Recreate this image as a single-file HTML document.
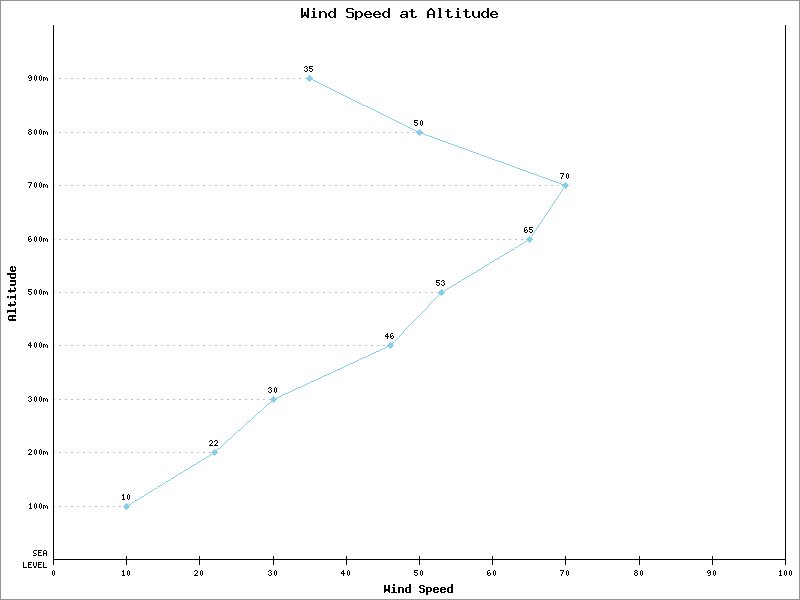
<!DOCTYPE html>
<html lang="en">
<head>
<meta charset="utf-8">
<title>Wind Speed at Altitude</title>
<style>
html,body{margin:0;padding:0;background:#ffffff;}
body{width:800px;height:600px;overflow:hidden;font-family:"Liberation Mono", monospace;}
.chart{position:relative;width:800px;height:600px;background:#ffffff;}
.chart svg{position:absolute;left:0;top:0;display:block;}
.sr{position:absolute;width:1px;height:1px;overflow:hidden;clip:rect(0 0 0 0);white-space:nowrap;}
</style>
</head>
<body>
<div class="chart" role="img" aria-label="Line chart: Wind Speed at Altitude">
<span class="sr">Wind Speed at Altitude. Altitude 100m to 900m; wind speed 10, 22, 30, 46, 53, 65, 70, 50, 35.</span>
<svg width="800" height="600" viewBox="0 0 800 600" shape-rendering="crispEdges">
<rect x="0" y="0" width="800" height="600" fill="#ffffff"/>
<g id="frame"><path fill="#949494" d="M0 0h800v1h-800zM0 1h1v598h-1zM799 1h1v598h-1zM0 599h800v1h-800z"/></g>
<g id="droplines"><path fill="#bebebe" d="M53 78h2v1h-2zM59 78h2v1h-2zM65 78h2v1h-2zM71 78h2v1h-2zM77 78h2v1h-2zM83 78h2v1h-2zM89 78h2v1h-2zM95 78h2v1h-2zM101 78h2v1h-2zM107 78h2v1h-2zM113 78h2v1h-2zM119 78h2v1h-2zM125 78h2v1h-2zM131 78h2v1h-2zM137 78h2v1h-2zM143 78h2v1h-2zM149 78h2v1h-2zM155 78h2v1h-2zM161 78h2v1h-2zM167 78h2v1h-2zM173 78h2v1h-2zM179 78h2v1h-2zM185 78h2v1h-2zM191 78h2v1h-2zM197 78h2v1h-2zM203 78h2v1h-2zM209 78h2v1h-2zM215 78h2v1h-2zM221 78h2v1h-2zM227 78h2v1h-2zM233 78h2v1h-2zM239 78h2v1h-2zM245 78h2v1h-2zM251 78h2v1h-2zM257 78h2v1h-2zM263 78h2v1h-2zM269 78h2v1h-2zM275 78h2v1h-2zM281 78h2v1h-2zM287 78h2v1h-2zM293 78h2v1h-2zM299 78h2v1h-2zM305 78h2v1h-2zM53 132h2v1h-2zM59 132h2v1h-2zM65 132h2v1h-2zM71 132h2v1h-2zM77 132h2v1h-2zM83 132h2v1h-2zM89 132h2v1h-2zM95 132h2v1h-2zM101 132h2v1h-2zM107 132h2v1h-2zM113 132h2v1h-2zM119 132h2v1h-2zM125 132h2v1h-2zM131 132h2v1h-2zM137 132h2v1h-2zM143 132h2v1h-2zM149 132h2v1h-2zM155 132h2v1h-2zM161 132h2v1h-2zM167 132h2v1h-2zM173 132h2v1h-2zM179 132h2v1h-2zM185 132h2v1h-2zM191 132h2v1h-2zM197 132h2v1h-2zM203 132h2v1h-2zM209 132h2v1h-2zM215 132h2v1h-2zM221 132h2v1h-2zM227 132h2v1h-2zM233 132h2v1h-2zM239 132h2v1h-2zM245 132h2v1h-2zM251 132h2v1h-2zM257 132h2v1h-2zM263 132h2v1h-2zM269 132h2v1h-2zM275 132h2v1h-2zM281 132h2v1h-2zM287 132h2v1h-2zM293 132h2v1h-2zM299 132h2v1h-2zM305 132h2v1h-2zM311 132h2v1h-2zM317 132h2v1h-2zM323 132h2v1h-2zM329 132h2v1h-2zM335 132h2v1h-2zM341 132h2v1h-2zM347 132h2v1h-2zM353 132h2v1h-2zM359 132h2v1h-2zM365 132h2v1h-2zM371 132h2v1h-2zM377 132h2v1h-2zM383 132h2v1h-2zM389 132h2v1h-2zM395 132h2v1h-2zM401 132h2v1h-2zM407 132h2v1h-2zM413 132h2v1h-2zM419 132h1v1h-1zM53 185h2v1h-2zM59 185h2v1h-2zM65 185h2v1h-2zM71 185h2v1h-2zM77 185h2v1h-2zM83 185h2v1h-2zM89 185h2v1h-2zM95 185h2v1h-2zM101 185h2v1h-2zM107 185h2v1h-2zM113 185h2v1h-2zM119 185h2v1h-2zM125 185h2v1h-2zM131 185h2v1h-2zM137 185h2v1h-2zM143 185h2v1h-2zM149 185h2v1h-2zM155 185h2v1h-2zM161 185h2v1h-2zM167 185h2v1h-2zM173 185h2v1h-2zM179 185h2v1h-2zM185 185h2v1h-2zM191 185h2v1h-2zM197 185h2v1h-2zM203 185h2v1h-2zM209 185h2v1h-2zM215 185h2v1h-2zM221 185h2v1h-2zM227 185h2v1h-2zM233 185h2v1h-2zM239 185h2v1h-2zM245 185h2v1h-2zM251 185h2v1h-2zM257 185h2v1h-2zM263 185h2v1h-2zM269 185h2v1h-2zM275 185h2v1h-2zM281 185h2v1h-2zM287 185h2v1h-2zM293 185h2v1h-2zM299 185h2v1h-2zM305 185h2v1h-2zM311 185h2v1h-2zM317 185h2v1h-2zM323 185h2v1h-2zM329 185h2v1h-2zM335 185h2v1h-2zM341 185h2v1h-2zM347 185h2v1h-2zM353 185h2v1h-2zM359 185h2v1h-2zM365 185h2v1h-2zM371 185h2v1h-2zM377 185h2v1h-2zM383 185h2v1h-2zM389 185h2v1h-2zM395 185h2v1h-2zM401 185h2v1h-2zM407 185h2v1h-2zM413 185h2v1h-2zM419 185h2v1h-2zM425 185h2v1h-2zM431 185h2v1h-2zM437 185h2v1h-2zM443 185h2v1h-2zM449 185h2v1h-2zM455 185h2v1h-2zM461 185h2v1h-2zM467 185h2v1h-2zM473 185h2v1h-2zM479 185h2v1h-2zM485 185h2v1h-2zM491 185h2v1h-2zM497 185h2v1h-2zM503 185h2v1h-2zM509 185h2v1h-2zM515 185h2v1h-2zM521 185h2v1h-2zM527 185h2v1h-2zM533 185h2v1h-2zM539 185h2v1h-2zM545 185h2v1h-2zM551 185h2v1h-2zM557 185h2v1h-2zM563 185h2v1h-2zM53 239h2v1h-2zM59 239h2v1h-2zM65 239h2v1h-2zM71 239h2v1h-2zM77 239h2v1h-2zM83 239h2v1h-2zM89 239h2v1h-2zM95 239h2v1h-2zM101 239h2v1h-2zM107 239h2v1h-2zM113 239h2v1h-2zM119 239h2v1h-2zM125 239h2v1h-2zM131 239h2v1h-2zM137 239h2v1h-2zM143 239h2v1h-2zM149 239h2v1h-2zM155 239h2v1h-2zM161 239h2v1h-2zM167 239h2v1h-2zM173 239h2v1h-2zM179 239h2v1h-2zM185 239h2v1h-2zM191 239h2v1h-2zM197 239h2v1h-2zM203 239h2v1h-2zM209 239h2v1h-2zM215 239h2v1h-2zM221 239h2v1h-2zM227 239h2v1h-2zM233 239h2v1h-2zM239 239h2v1h-2zM245 239h2v1h-2zM251 239h2v1h-2zM257 239h2v1h-2zM263 239h2v1h-2zM269 239h2v1h-2zM275 239h2v1h-2zM281 239h2v1h-2zM287 239h2v1h-2zM293 239h2v1h-2zM299 239h2v1h-2zM305 239h2v1h-2zM311 239h2v1h-2zM317 239h2v1h-2zM323 239h2v1h-2zM329 239h2v1h-2zM335 239h2v1h-2zM341 239h2v1h-2zM347 239h2v1h-2zM353 239h2v1h-2zM359 239h2v1h-2zM365 239h2v1h-2zM371 239h2v1h-2zM377 239h2v1h-2zM383 239h2v1h-2zM389 239h2v1h-2zM395 239h2v1h-2zM401 239h2v1h-2zM407 239h2v1h-2zM413 239h2v1h-2zM419 239h2v1h-2zM425 239h2v1h-2zM431 239h2v1h-2zM437 239h2v1h-2zM443 239h2v1h-2zM449 239h2v1h-2zM455 239h2v1h-2zM461 239h2v1h-2zM467 239h2v1h-2zM473 239h2v1h-2zM479 239h2v1h-2zM485 239h2v1h-2zM491 239h2v1h-2zM497 239h2v1h-2zM503 239h2v1h-2zM509 239h2v1h-2zM515 239h2v1h-2zM521 239h2v1h-2zM527 239h2v1h-2zM53 292h2v1h-2zM59 292h2v1h-2zM65 292h2v1h-2zM71 292h2v1h-2zM77 292h2v1h-2zM83 292h2v1h-2zM89 292h2v1h-2zM95 292h2v1h-2zM101 292h2v1h-2zM107 292h2v1h-2zM113 292h2v1h-2zM119 292h2v1h-2zM125 292h2v1h-2zM131 292h2v1h-2zM137 292h2v1h-2zM143 292h2v1h-2zM149 292h2v1h-2zM155 292h2v1h-2zM161 292h2v1h-2zM167 292h2v1h-2zM173 292h2v1h-2zM179 292h2v1h-2zM185 292h2v1h-2zM191 292h2v1h-2zM197 292h2v1h-2zM203 292h2v1h-2zM209 292h2v1h-2zM215 292h2v1h-2zM221 292h2v1h-2zM227 292h2v1h-2zM233 292h2v1h-2zM239 292h2v1h-2zM245 292h2v1h-2zM251 292h2v1h-2zM257 292h2v1h-2zM263 292h2v1h-2zM269 292h2v1h-2zM275 292h2v1h-2zM281 292h2v1h-2zM287 292h2v1h-2zM293 292h2v1h-2zM299 292h2v1h-2zM305 292h2v1h-2zM311 292h2v1h-2zM317 292h2v1h-2zM323 292h2v1h-2zM329 292h2v1h-2zM335 292h2v1h-2zM341 292h2v1h-2zM347 292h2v1h-2zM353 292h2v1h-2zM359 292h2v1h-2zM365 292h2v1h-2zM371 292h2v1h-2zM377 292h2v1h-2zM383 292h2v1h-2zM389 292h2v1h-2zM395 292h2v1h-2zM401 292h2v1h-2zM407 292h2v1h-2zM413 292h2v1h-2zM419 292h2v1h-2zM425 292h2v1h-2zM431 292h2v1h-2zM437 292h2v1h-2zM53 345h2v1h-2zM59 345h2v1h-2zM65 345h2v1h-2zM71 345h2v1h-2zM77 345h2v1h-2zM83 345h2v1h-2zM89 345h2v1h-2zM95 345h2v1h-2zM101 345h2v1h-2zM107 345h2v1h-2zM113 345h2v1h-2zM119 345h2v1h-2zM125 345h2v1h-2zM131 345h2v1h-2zM137 345h2v1h-2zM143 345h2v1h-2zM149 345h2v1h-2zM155 345h2v1h-2zM161 345h2v1h-2zM167 345h2v1h-2zM173 345h2v1h-2zM179 345h2v1h-2zM185 345h2v1h-2zM191 345h2v1h-2zM197 345h2v1h-2zM203 345h2v1h-2zM209 345h2v1h-2zM215 345h2v1h-2zM221 345h2v1h-2zM227 345h2v1h-2zM233 345h2v1h-2zM239 345h2v1h-2zM245 345h2v1h-2zM251 345h2v1h-2zM257 345h2v1h-2zM263 345h2v1h-2zM269 345h2v1h-2zM275 345h2v1h-2zM281 345h2v1h-2zM287 345h2v1h-2zM293 345h2v1h-2zM299 345h2v1h-2zM305 345h2v1h-2zM311 345h2v1h-2zM317 345h2v1h-2zM323 345h2v1h-2zM329 345h2v1h-2zM335 345h2v1h-2zM341 345h2v1h-2zM347 345h2v1h-2zM353 345h2v1h-2zM359 345h2v1h-2zM365 345h2v1h-2zM371 345h2v1h-2zM377 345h2v1h-2zM383 345h2v1h-2zM389 345h2v1h-2zM53 399h2v1h-2zM59 399h2v1h-2zM65 399h2v1h-2zM71 399h2v1h-2zM77 399h2v1h-2zM83 399h2v1h-2zM89 399h2v1h-2zM95 399h2v1h-2zM101 399h2v1h-2zM107 399h2v1h-2zM113 399h2v1h-2zM119 399h2v1h-2zM125 399h2v1h-2zM131 399h2v1h-2zM137 399h2v1h-2zM143 399h2v1h-2zM149 399h2v1h-2zM155 399h2v1h-2zM161 399h2v1h-2zM167 399h2v1h-2zM173 399h2v1h-2zM179 399h2v1h-2zM185 399h2v1h-2zM191 399h2v1h-2zM197 399h2v1h-2zM203 399h2v1h-2zM209 399h2v1h-2zM215 399h2v1h-2zM221 399h2v1h-2zM227 399h2v1h-2zM233 399h2v1h-2zM239 399h2v1h-2zM245 399h2v1h-2zM251 399h2v1h-2zM257 399h2v1h-2zM263 399h2v1h-2zM269 399h2v1h-2zM53 452h2v1h-2zM59 452h2v1h-2zM65 452h2v1h-2zM71 452h2v1h-2zM77 452h2v1h-2zM83 452h2v1h-2zM89 452h2v1h-2zM95 452h2v1h-2zM101 452h2v1h-2zM107 452h2v1h-2zM113 452h2v1h-2zM119 452h2v1h-2zM125 452h2v1h-2zM131 452h2v1h-2zM137 452h2v1h-2zM143 452h2v1h-2zM149 452h2v1h-2zM155 452h2v1h-2zM161 452h2v1h-2zM167 452h2v1h-2zM173 452h2v1h-2zM179 452h2v1h-2zM185 452h2v1h-2zM191 452h2v1h-2zM197 452h2v1h-2zM203 452h2v1h-2zM209 452h2v1h-2zM53 506h2v1h-2zM59 506h2v1h-2zM65 506h2v1h-2zM71 506h2v1h-2zM77 506h2v1h-2zM83 506h2v1h-2zM89 506h2v1h-2zM95 506h2v1h-2zM101 506h2v1h-2zM107 506h2v1h-2zM113 506h2v1h-2zM119 506h2v1h-2zM125 506h2v1h-2z"/></g>
<g id="axes"><path fill="#000000" d="M53 25h1v534h-1zM785 25h1v534h-1zM126 556h1v3h-1zM199 556h1v3h-1zM273 556h1v3h-1zM346 556h1v3h-1zM419 556h1v3h-1zM492 556h1v3h-1zM565 556h1v3h-1zM639 556h1v3h-1zM712 556h1v3h-1zM53 559h733v1h-733zM53 560h1v5h-1zM126 560h1v5h-1zM199 560h1v5h-1zM273 560h1v5h-1zM346 560h1v5h-1zM419 560h1v5h-1zM492 560h1v5h-1zM565 560h1v5h-1zM639 560h1v5h-1zM712 560h1v5h-1zM785 560h1v5h-1z"/></g>
<g id="x-labels"><path fill="#000000" d="M53 570h1v1h-1zM123 570h1v1h-1zM128 570h1v1h-1zM195 570h2v1h-2zM201 570h1v1h-1zM269 570h2v1h-2zM275 570h1v1h-1zM343 570h1v1h-1zM348 570h1v1h-1zM414 570h4v1h-4zM421 570h1v1h-1zM488 570h2v1h-2zM494 570h1v1h-1zM560 570h4v1h-4zM567 570h1v1h-1zM635 570h2v1h-2zM641 570h1v1h-1zM708 570h2v1h-2zM714 570h1v1h-1zM780 570h1v1h-1zM785 570h1v1h-1zM790 570h1v1h-1zM52 571h1v4h-1zM54 571h1v4h-1zM122 571h2v1h-2zM127 571h1v4h-1zM129 571h1v4h-1zM194 571h1v1h-1zM197 571h1v2h-1zM200 571h1v4h-1zM202 571h1v4h-1zM268 571h1v1h-1zM271 571h1v1h-1zM274 571h1v4h-1zM276 571h1v4h-1zM342 571h2v1h-2zM347 571h1v4h-1zM349 571h1v4h-1zM414 571h1v1h-1zM420 571h1v4h-1zM422 571h1v4h-1zM487 571h1v2h-1zM493 571h1v4h-1zM495 571h1v4h-1zM563 571h1v1h-1zM566 571h1v4h-1zM568 571h1v4h-1zM634 571h1v1h-1zM637 571h1v1h-1zM640 571h1v4h-1zM642 571h1v4h-1zM707 571h1v2h-1zM710 571h1v1h-1zM713 571h1v4h-1zM715 571h1v4h-1zM779 571h2v1h-2zM784 571h1v4h-1zM786 571h1v4h-1zM789 571h1v4h-1zM791 571h1v4h-1zM123 572h1v3h-1zM270 572h1v1h-1zM341 572h1v1h-1zM343 572h1v1h-1zM414 572h3v1h-3zM489 572h1v1h-1zM562 572h1v2h-1zM635 572h2v1h-2zM709 572h2v1h-2zM780 572h1v3h-1zM196 573h1v1h-1zM271 573h1v2h-1zM341 573h4v1h-4zM417 573h1v2h-1zM487 573h2v1h-2zM490 573h1v2h-1zM634 573h1v2h-1zM637 573h1v2h-1zM708 573h1v1h-1zM710 573h1v2h-1zM195 574h1v1h-1zM268 574h1v1h-1zM343 574h1v2h-1zM414 574h1v1h-1zM487 574h1v1h-1zM561 574h1v2h-1zM53 575h1v1h-1zM122 575h3v1h-3zM128 575h1v1h-1zM194 575h4v1h-4zM201 575h1v1h-1zM269 575h2v1h-2zM275 575h1v1h-1zM348 575h1v1h-1zM415 575h2v1h-2zM421 575h1v1h-1zM488 575h2v1h-2zM494 575h1v1h-1zM567 575h1v1h-1zM635 575h2v1h-2zM641 575h1v1h-1zM708 575h2v1h-2zM714 575h1v1h-1zM779 575h3v1h-3zM785 575h1v1h-1zM790 575h1v1h-1z"/></g>
<g id="y-labels"><path fill="#000000" d="M29 75h2v1h-2zM35 75h1v1h-1zM40 75h1v1h-1zM28 76h1v2h-1zM31 76h1v1h-1zM34 76h1v4h-1zM36 76h1v4h-1zM39 76h1v4h-1zM41 76h1v4h-1zM30 77h2v1h-2zM43 77h2v1h-2zM46 77h1v1h-1zM29 78h1v1h-1zM31 78h1v2h-1zM43 78h1v3h-1zM45 78h1v2h-1zM47 78h1v3h-1zM29 80h2v1h-2zM35 80h1v1h-1zM40 80h1v1h-1zM29 129h2v1h-2zM35 129h1v1h-1zM40 129h1v1h-1zM28 130h1v1h-1zM31 130h1v1h-1zM34 130h1v4h-1zM36 130h1v4h-1zM39 130h1v4h-1zM41 130h1v4h-1zM29 131h2v1h-2zM43 131h2v1h-2zM46 131h1v1h-1zM28 132h1v2h-1zM31 132h1v2h-1zM43 132h1v3h-1zM45 132h1v2h-1zM47 132h1v3h-1zM29 134h2v1h-2zM35 134h1v1h-1zM40 134h1v1h-1zM28 182h4v1h-4zM35 182h1v1h-1zM40 182h1v1h-1zM31 183h1v1h-1zM34 183h1v4h-1zM36 183h1v4h-1zM39 183h1v4h-1zM41 183h1v4h-1zM30 184h1v2h-1zM43 184h2v1h-2zM46 184h1v1h-1zM43 185h1v3h-1zM45 185h1v2h-1zM47 185h1v3h-1zM29 186h1v2h-1zM35 187h1v1h-1zM40 187h1v1h-1zM29 236h2v1h-2zM35 236h1v1h-1zM40 236h1v1h-1zM28 237h1v2h-1zM34 237h1v4h-1zM36 237h1v4h-1zM39 237h1v4h-1zM41 237h1v4h-1zM30 238h1v1h-1zM43 238h2v1h-2zM46 238h1v1h-1zM28 239h2v1h-2zM31 239h1v2h-1zM43 239h1v3h-1zM45 239h1v2h-1zM47 239h1v3h-1zM28 240h1v1h-1zM29 241h2v1h-2zM35 241h1v1h-1zM40 241h1v1h-1zM28 289h4v1h-4zM35 289h1v1h-1zM40 289h1v1h-1zM28 290h1v1h-1zM34 290h1v4h-1zM36 290h1v4h-1zM39 290h1v4h-1zM41 290h1v4h-1zM28 291h3v1h-3zM43 291h2v1h-2zM46 291h1v1h-1zM31 292h1v2h-1zM43 292h1v3h-1zM45 292h1v2h-1zM47 292h1v3h-1zM28 293h1v1h-1zM29 294h2v1h-2zM35 294h1v1h-1zM40 294h1v1h-1zM30 342h1v1h-1zM35 342h1v1h-1zM40 342h1v1h-1zM29 343h2v1h-2zM34 343h1v4h-1zM36 343h1v4h-1zM39 343h1v4h-1zM41 343h1v4h-1zM28 344h1v1h-1zM30 344h1v1h-1zM43 344h2v1h-2zM46 344h1v1h-1zM28 345h4v1h-4zM43 345h1v3h-1zM45 345h1v2h-1zM47 345h1v3h-1zM30 346h1v2h-1zM35 347h1v1h-1zM40 347h1v1h-1zM29 396h2v1h-2zM35 396h1v1h-1zM40 396h1v1h-1zM28 397h1v1h-1zM31 397h1v1h-1zM34 397h1v4h-1zM36 397h1v4h-1zM39 397h1v4h-1zM41 397h1v4h-1zM30 398h1v1h-1zM43 398h2v1h-2zM46 398h1v1h-1zM31 399h1v2h-1zM43 399h1v3h-1zM45 399h1v2h-1zM47 399h1v3h-1zM28 400h1v1h-1zM29 401h2v1h-2zM35 401h1v1h-1zM40 401h1v1h-1zM29 449h2v1h-2zM35 449h1v1h-1zM40 449h1v1h-1zM28 450h1v1h-1zM31 450h1v2h-1zM34 450h1v4h-1zM36 450h1v4h-1zM39 450h1v4h-1zM41 450h1v4h-1zM43 451h2v1h-2zM46 451h1v1h-1zM30 452h1v1h-1zM43 452h1v3h-1zM45 452h1v2h-1zM47 452h1v3h-1zM29 453h1v1h-1zM28 454h4v1h-4zM35 454h1v1h-1zM40 454h1v1h-1zM30 503h1v1h-1zM35 503h1v1h-1zM40 503h1v1h-1zM29 504h2v1h-2zM34 504h1v4h-1zM36 504h1v4h-1zM39 504h1v4h-1zM41 504h1v4h-1zM30 505h1v3h-1zM43 505h2v1h-2zM46 505h1v1h-1zM43 506h1v3h-1zM45 506h1v2h-1zM47 506h1v3h-1zM29 508h3v1h-3zM35 508h1v1h-1zM40 508h1v1h-1zM34 550h3v1h-3zM38 550h4v1h-4zM44 550h2v1h-2zM33 551h1v2h-1zM38 551h1v1h-1zM43 551h1v2h-1zM46 551h1v2h-1zM38 552h3v1h-3zM34 553h2v1h-2zM38 553h1v2h-1zM43 553h4v1h-4zM36 554h1v1h-1zM43 554h1v2h-1zM46 554h1v2h-1zM33 555h3v1h-3zM38 555h4v1h-4zM23 562h1v5h-1zM28 562h4v1h-4zM33 562h1v4h-1zM36 562h1v4h-1zM38 562h4v1h-4zM43 562h1v5h-1zM28 563h1v1h-1zM38 563h1v1h-1zM28 564h3v1h-3zM38 564h3v1h-3zM28 565h1v2h-1zM38 565h1v2h-1zM34 566h2v2h-2zM23 567h4v1h-4zM28 567h4v1h-4zM38 567h4v1h-4zM43 567h4v1h-4z"/></g>
<g id="series-line"><path fill="#87ceeb" d="M309 78h2v1h-2zM311 79h2v1h-2zM313 80h2v1h-2zM315 81h2v1h-2zM317 82h2v1h-2zM319 83h2v1h-2zM321 84h2v1h-2zM323 85h2v1h-2zM325 86h2v1h-2zM327 87h2v1h-2zM329 88h2v1h-2zM331 89h2v1h-2zM333 90h2v1h-2zM335 91h2v1h-2zM337 92h2v1h-2zM339 93h2v1h-2zM341 94h2v1h-2zM343 95h2v1h-2zM345 96h2v1h-2zM347 97h2v1h-2zM349 98h2v1h-2zM351 99h2v1h-2zM353 100h2v1h-2zM355 101h2v1h-2zM357 102h2v1h-2zM359 103h2v1h-2zM361 104h2v1h-2zM363 105h3v1h-3zM366 106h2v1h-2zM368 107h2v1h-2zM370 108h2v1h-2zM372 109h2v1h-2zM374 110h2v1h-2zM376 111h2v1h-2zM378 112h2v1h-2zM380 113h2v1h-2zM382 114h2v1h-2zM384 115h2v1h-2zM386 116h2v1h-2zM388 117h2v1h-2zM390 118h2v1h-2zM392 119h2v1h-2zM394 120h2v1h-2zM396 121h2v1h-2zM398 122h2v1h-2zM400 123h2v1h-2zM402 124h2v1h-2zM404 125h2v1h-2zM406 126h2v1h-2zM408 127h2v1h-2zM410 128h2v1h-2zM412 129h2v1h-2zM414 130h2v1h-2zM416 131h2v1h-2zM418 132h3v1h-3zM421 133h3v1h-3zM424 134h2v1h-2zM426 135h3v1h-3zM429 136h3v1h-3zM432 137h3v1h-3zM435 138h2v1h-2zM437 139h3v1h-3zM440 140h3v1h-3zM443 141h3v1h-3zM446 142h2v1h-2zM448 143h3v1h-3zM451 144h3v1h-3zM454 145h3v1h-3zM457 146h2v1h-2zM459 147h3v1h-3zM462 148h3v1h-3zM465 149h3v1h-3zM468 150h2v1h-2zM470 151h3v1h-3zM473 152h3v1h-3zM476 153h3v1h-3zM479 154h2v1h-2zM481 155h3v1h-3zM484 156h3v1h-3zM487 157h3v1h-3zM490 158h2v1h-2zM492 159h3v1h-3zM495 160h3v1h-3zM498 161h3v1h-3zM501 162h3v1h-3zM504 163h2v1h-2zM506 164h3v1h-3zM509 165h3v1h-3zM512 166h3v1h-3zM515 167h2v1h-2zM517 168h3v1h-3zM520 169h3v1h-3zM523 170h3v1h-3zM526 171h2v1h-2zM528 172h3v1h-3zM531 173h3v1h-3zM534 174h3v1h-3zM537 175h2v1h-2zM539 176h3v1h-3zM542 177h3v1h-3zM545 178h3v1h-3zM548 179h2v1h-2zM550 180h3v1h-3zM553 181h3v1h-3zM556 182h3v1h-3zM559 183h2v1h-2zM561 184h3v1h-3zM564 185h2v1h-2zM564 186h1v2h-1zM563 188h1v1h-1zM562 189h1v2h-1zM561 191h1v1h-1zM560 192h1v2h-1zM559 194h1v1h-1zM558 195h1v2h-1zM557 197h1v1h-1zM556 198h1v2h-1zM555 200h1v1h-1zM554 201h1v2h-1zM553 203h1v1h-1zM552 204h1v2h-1zM551 206h1v1h-1zM550 207h1v2h-1zM549 209h1v1h-1zM548 210h1v2h-1zM547 212h1v1h-1zM546 213h1v2h-1zM545 215h1v1h-1zM544 216h1v2h-1zM543 218h1v1h-1zM542 219h1v2h-1zM541 221h1v1h-1zM540 222h1v2h-1zM539 224h1v1h-1zM538 225h1v2h-1zM537 227h1v1h-1zM536 228h1v2h-1zM535 230h1v1h-1zM534 231h1v2h-1zM533 233h1v1h-1zM532 234h1v2h-1zM531 236h1v1h-1zM530 237h1v2h-1zM529 239h1v1h-1zM527 240h2v1h-2zM525 241h2v1h-2zM524 242h1v1h-1zM522 243h2v1h-2zM520 244h2v1h-2zM519 245h1v1h-1zM517 246h2v1h-2zM515 247h2v1h-2zM514 248h1v1h-1zM512 249h2v1h-2zM510 250h2v1h-2zM509 251h1v1h-1zM507 252h2v1h-2zM505 253h2v1h-2zM504 254h1v1h-1zM502 255h2v1h-2zM500 256h2v1h-2zM499 257h1v1h-1zM497 258h2v1h-2zM495 259h2v1h-2zM494 260h1v1h-1zM492 261h2v1h-2zM490 262h2v1h-2zM489 263h1v1h-1zM487 264h2v1h-2zM485 265h2v1h-2zM484 266h1v1h-1zM482 267h2v1h-2zM481 268h1v1h-1zM479 269h2v1h-2zM477 270h2v1h-2zM476 271h1v1h-1zM474 272h2v1h-2zM472 273h2v1h-2zM471 274h1v1h-1zM469 275h2v1h-2zM467 276h2v1h-2zM466 277h1v1h-1zM464 278h2v1h-2zM462 279h2v1h-2zM461 280h1v1h-1zM459 281h2v1h-2zM457 282h2v1h-2zM456 283h1v1h-1zM454 284h2v1h-2zM452 285h2v1h-2zM451 286h1v1h-1zM449 287h2v1h-2zM447 288h2v1h-2zM446 289h1v1h-1zM444 290h2v1h-2zM442 291h2v1h-2zM441 292h1v1h-1zM440 293h1v1h-1zM439 294h1v1h-1zM438 295h1v1h-1zM437 296h1v1h-1zM436 297h1v1h-1zM435 298h1v1h-1zM434 299h1v1h-1zM433 300h1v1h-1zM432 301h1v1h-1zM431 302h1v1h-1zM430 303h1v1h-1zM429 304h1v1h-1zM428 305h1v2h-1zM427 307h1v1h-1zM426 308h1v1h-1zM425 309h1v1h-1zM424 310h1v1h-1zM423 311h1v1h-1zM422 312h1v1h-1zM421 313h1v1h-1zM420 314h1v1h-1zM419 315h1v1h-1zM418 316h1v1h-1zM417 317h1v1h-1zM416 318h1v1h-1zM415 319h1v1h-1zM414 320h1v1h-1zM413 321h1v1h-1zM412 322h1v1h-1zM411 323h1v1h-1zM410 324h1v1h-1zM409 325h1v1h-1zM408 326h1v1h-1zM407 327h1v1h-1zM406 328h1v1h-1zM405 329h1v1h-1zM404 330h1v1h-1zM403 331h1v2h-1zM402 333h1v1h-1zM401 334h1v1h-1zM400 335h1v1h-1zM399 336h1v1h-1zM398 337h1v1h-1zM397 338h1v1h-1zM396 339h1v1h-1zM395 340h1v1h-1zM394 341h1v1h-1zM393 342h1v1h-1zM392 343h1v1h-1zM391 344h1v1h-1zM389 345h2v1h-2zM387 346h2v1h-2zM385 347h2v1h-2zM383 348h2v1h-2zM381 349h2v1h-2zM379 350h2v1h-2zM376 351h3v1h-3zM374 352h2v1h-2zM372 353h2v1h-2zM370 354h2v1h-2zM368 355h2v1h-2zM366 356h2v1h-2zM363 357h3v1h-3zM361 358h2v1h-2zM359 359h2v1h-2zM357 360h2v1h-2zM355 361h2v1h-2zM353 362h2v1h-2zM350 363h3v1h-3zM348 364h2v1h-2zM346 365h2v1h-2zM344 366h2v1h-2zM342 367h2v1h-2zM340 368h2v1h-2zM337 369h3v1h-3zM335 370h2v1h-2zM333 371h2v1h-2zM331 372h2v1h-2zM329 373h2v1h-2zM327 374h2v1h-2zM324 375h3v1h-3zM322 376h2v1h-2zM320 377h2v1h-2zM318 378h2v1h-2zM316 379h2v1h-2zM314 380h2v1h-2zM311 381h3v1h-3zM309 382h2v1h-2zM307 383h2v1h-2zM305 384h2v1h-2zM303 385h2v1h-2zM301 386h2v1h-2zM298 387h3v1h-3zM296 388h2v1h-2zM294 389h2v1h-2zM292 390h2v1h-2zM290 391h2v1h-2zM288 392h2v1h-2zM285 393h3v1h-3zM283 394h2v1h-2zM281 395h2v1h-2zM279 396h2v1h-2zM277 397h2v1h-2zM275 398h2v1h-2zM273 399h2v1h-2zM272 400h1v1h-1zM271 401h1v1h-1zM270 402h1v1h-1zM268 403h2v1h-2zM267 404h1v1h-1zM266 405h1v1h-1zM265 406h1v1h-1zM264 407h1v1h-1zM263 408h1v1h-1zM262 409h1v1h-1zM261 410h1v1h-1zM260 411h1v1h-1zM258 412h2v1h-2zM257 413h1v1h-1zM256 414h1v1h-1zM255 415h1v1h-1zM254 416h1v1h-1zM253 417h1v1h-1zM252 418h1v1h-1zM251 419h1v1h-1zM250 420h1v1h-1zM248 421h2v1h-2zM247 422h1v1h-1zM246 423h1v1h-1zM245 424h1v1h-1zM244 425h1v1h-1zM243 426h1v1h-1zM242 427h1v1h-1zM241 428h1v1h-1zM240 429h1v1h-1zM238 430h2v1h-2zM237 431h1v1h-1zM236 432h1v1h-1zM235 433h1v1h-1zM234 434h1v1h-1zM233 435h1v1h-1zM232 436h1v1h-1zM231 437h1v1h-1zM230 438h1v1h-1zM228 439h2v1h-2zM227 440h1v1h-1zM226 441h1v1h-1zM225 442h1v1h-1zM224 443h1v1h-1zM223 444h1v1h-1zM222 445h1v1h-1zM221 446h1v1h-1zM220 447h1v1h-1zM218 448h2v1h-2zM217 449h1v1h-1zM216 450h1v1h-1zM215 451h1v1h-1zM214 452h1v1h-1zM212 453h2v1h-2zM210 454h2v1h-2zM209 455h1v1h-1zM207 456h2v1h-2zM206 457h1v1h-1zM204 458h2v1h-2zM202 459h2v1h-2zM201 460h1v1h-1zM199 461h2v1h-2zM197 462h2v1h-2zM196 463h1v1h-1zM194 464h2v1h-2zM192 465h2v1h-2zM191 466h1v1h-1zM189 467h2v1h-2zM188 468h1v1h-1zM186 469h2v1h-2zM184 470h2v1h-2zM183 471h1v1h-1zM181 472h2v1h-2zM179 473h2v1h-2zM178 474h1v1h-1zM176 475h2v1h-2zM175 476h1v1h-1zM173 477h2v1h-2zM171 478h2v1h-2zM170 479h1v1h-1zM168 480h2v1h-2zM166 481h2v1h-2zM165 482h1v1h-1zM163 483h2v1h-2zM162 484h1v1h-1zM160 485h2v1h-2zM158 486h2v1h-2zM157 487h1v1h-1zM155 488h2v1h-2zM153 489h2v1h-2zM152 490h1v1h-1zM150 491h2v1h-2zM148 492h2v1h-2zM147 493h1v1h-1zM145 494h2v1h-2zM144 495h1v1h-1zM142 496h2v1h-2zM140 497h2v1h-2zM139 498h1v1h-1zM137 499h2v1h-2zM135 500h2v1h-2zM134 501h1v1h-1zM132 502h2v1h-2zM131 503h1v1h-1zM129 504h2v1h-2zM127 505h2v1h-2zM126 506h1v1h-1z"/></g>
<g id="markers"><path fill="#87ceeb" d="M309 75h1v1h-1zM308 76h3v1h-3zM307 77h5v1h-5zM306 78h7v1h-7zM307 79h5v1h-5zM308 80h3v1h-3zM309 81h1v1h-1zM419 129h1v1h-1zM418 130h3v1h-3zM417 131h5v1h-5zM416 132h7v1h-7zM417 133h5v1h-5zM418 134h3v1h-3zM419 135h1v1h-1zM565 182h1v1h-1zM564 183h3v1h-3zM563 184h5v1h-5zM562 185h7v1h-7zM563 186h5v1h-5zM564 187h3v1h-3zM565 188h1v1h-1zM529 236h1v1h-1zM528 237h3v1h-3zM527 238h5v1h-5zM526 239h7v1h-7zM527 240h5v1h-5zM528 241h3v1h-3zM529 242h1v1h-1zM441 289h1v1h-1zM440 290h3v1h-3zM439 291h5v1h-5zM438 292h7v1h-7zM439 293h5v1h-5zM440 294h3v1h-3zM441 295h1v1h-1zM390 342h1v1h-1zM389 343h3v1h-3zM388 344h5v1h-5zM387 345h7v1h-7zM388 346h5v1h-5zM389 347h3v1h-3zM390 348h1v1h-1zM273 396h1v1h-1zM272 397h3v1h-3zM271 398h5v1h-5zM270 399h7v1h-7zM271 400h5v1h-5zM272 401h3v1h-3zM273 402h1v1h-1zM214 449h1v1h-1zM213 450h3v1h-3zM212 451h5v1h-5zM211 452h7v1h-7zM212 453h5v1h-5zM213 454h3v1h-3zM214 455h1v1h-1zM126 503h1v1h-1zM125 504h3v1h-3zM124 505h5v1h-5zM123 506h7v1h-7zM124 507h5v1h-5zM125 508h3v1h-3zM126 509h1v1h-1z"/></g>
<g id="value-labels"><path fill="#000000" d="M305 66h2v1h-2zM309 66h4v1h-4zM304 67h1v1h-1zM307 67h1v1h-1zM309 67h1v1h-1zM306 68h1v1h-1zM309 68h3v1h-3zM307 69h1v2h-1zM312 69h1v2h-1zM304 70h1v1h-1zM309 70h1v1h-1zM305 71h2v1h-2zM310 71h2v1h-2zM414 120h4v1h-4zM421 120h1v1h-1zM414 121h1v1h-1zM420 121h1v4h-1zM422 121h1v4h-1zM414 122h3v1h-3zM417 123h1v2h-1zM414 124h1v1h-1zM415 125h2v1h-2zM421 125h1v1h-1zM560 173h4v1h-4zM567 173h1v1h-1zM563 174h1v1h-1zM566 174h1v4h-1zM568 174h1v4h-1zM562 175h1v2h-1zM561 177h1v2h-1zM567 178h1v1h-1zM525 227h2v1h-2zM529 227h4v1h-4zM524 228h1v2h-1zM529 228h1v1h-1zM526 229h1v1h-1zM529 229h3v1h-3zM524 230h2v1h-2zM527 230h1v2h-1zM532 230h1v2h-1zM524 231h1v1h-1zM529 231h1v1h-1zM525 232h2v1h-2zM530 232h2v1h-2zM436 280h4v1h-4zM442 280h2v1h-2zM436 281h1v1h-1zM441 281h1v1h-1zM444 281h1v1h-1zM436 282h3v1h-3zM443 282h1v1h-1zM439 283h1v2h-1zM444 283h1v2h-1zM436 284h1v1h-1zM441 284h1v1h-1zM437 285h2v1h-2zM442 285h2v1h-2zM387 333h1v1h-1zM391 333h2v1h-2zM386 334h2v1h-2zM390 334h1v2h-1zM385 335h1v1h-1zM387 335h1v1h-1zM392 335h1v1h-1zM385 336h4v1h-4zM390 336h2v1h-2zM393 336h1v2h-1zM387 337h1v2h-1zM390 337h1v1h-1zM391 338h2v1h-2zM269 387h2v1h-2zM275 387h1v1h-1zM268 388h1v1h-1zM271 388h1v1h-1zM274 388h1v4h-1zM276 388h1v4h-1zM270 389h1v1h-1zM271 390h1v2h-1zM268 391h1v1h-1zM269 392h2v1h-2zM275 392h1v1h-1zM210 440h2v1h-2zM215 440h2v1h-2zM209 441h1v1h-1zM212 441h1v2h-1zM214 441h1v1h-1zM217 441h1v2h-1zM211 443h1v1h-1zM216 443h1v1h-1zM210 444h1v1h-1zM215 444h1v1h-1zM209 445h4v1h-4zM214 445h4v1h-4zM123 494h1v1h-1zM128 494h1v1h-1zM122 495h2v1h-2zM127 495h1v4h-1zM129 495h1v4h-1zM123 496h1v3h-1zM122 499h3v1h-3zM128 499h1v1h-1z"/></g>
<g id="title"><path fill="#000000" d="M301 8h2v7h-2zM307 8h2v7h-2zM313 8h2v2h-2zM334 8h2v4h-2zM347 8h6v1h-6zM388 8h2v4h-2zM430 8h2v1h-2zM438 8h3v1h-3zM457 8h2v2h-2zM487 8h2v4h-2zM346 9h2v3h-2zM352 9h2v1h-2zM411 9h2v2h-2zM429 9h4v1h-4zM439 9h2v8h-2zM447 9h2v2h-2zM465 9h2v2h-2zM428 10h2v1h-2zM432 10h2v1h-2zM312 11h3v1h-3zM319 11h2v1h-2zM322 11h3v1h-3zM330 11h3v1h-3zM355 11h2v1h-2zM358 11h3v1h-3zM366 11h4v1h-4zM375 11h4v1h-4zM384 11h3v1h-3zM402 11h5v1h-5zM409 11h6v1h-6zM427 11h2v3h-2zM433 11h2v3h-2zM445 11h6v1h-6zM456 11h3v1h-3zM463 11h6v1h-6zM472 11h2v5h-2zM478 11h2v5h-2zM483 11h3v1h-3zM492 11h4v1h-4zM304 12h2v3h-2zM313 12h2v5h-2zM319 12h3v1h-3zM324 12h2v1h-2zM329 12h2v1h-2zM333 12h3v1h-3zM347 12h6v1h-6zM355 12h3v1h-3zM360 12h2v1h-2zM365 12h2v1h-2zM369 12h2v1h-2zM374 12h2v1h-2zM378 12h2v1h-2zM383 12h2v1h-2zM387 12h3v1h-3zM401 12h2v1h-2zM406 12h2v2h-2zM411 12h2v5h-2zM447 12h2v5h-2zM457 12h2v5h-2zM465 12h2v5h-2zM482 12h2v1h-2zM486 12h3v1h-3zM491 12h2v1h-2zM495 12h2v1h-2zM319 13h2v5h-2zM325 13h2v5h-2zM328 13h2v3h-2zM334 13h2v3h-2zM352 13h2v4h-2zM355 13h2v3h-2zM361 13h2v3h-2zM364 13h2v1h-2zM370 13h2v1h-2zM373 13h2v1h-2zM379 13h2v1h-2zM382 13h2v3h-2zM388 13h2v3h-2zM481 13h2v3h-2zM487 13h2v3h-2zM490 13h2v1h-2zM496 13h2v1h-2zM364 14h8v1h-8zM373 14h8v1h-8zM401 14h7v1h-7zM427 14h8v1h-8zM490 14h8v1h-8zM301 15h8v1h-8zM364 15h2v1h-2zM373 15h2v1h-2zM400 15h2v2h-2zM406 15h2v1h-2zM427 15h2v3h-2zM433 15h2v3h-2zM490 15h2v1h-2zM301 16h3v1h-3zM306 16h3v1h-3zM329 16h2v1h-2zM333 16h3v1h-3zM346 16h2v1h-2zM355 16h3v1h-3zM360 16h2v1h-2zM365 16h2v1h-2zM370 16h2v1h-2zM374 16h2v1h-2zM379 16h2v1h-2zM383 16h2v1h-2zM387 16h3v1h-3zM405 16h3v1h-3zM415 16h2v1h-2zM451 16h2v1h-2zM469 16h2v1h-2zM473 16h2v1h-2zM477 16h3v1h-3zM482 16h2v1h-2zM486 16h3v1h-3zM491 16h2v1h-2zM496 16h2v1h-2zM301 17h2v1h-2zM307 17h2v1h-2zM311 17h6v1h-6zM330 17h3v1h-3zM334 17h2v1h-2zM347 17h6v1h-6zM355 17h2v3h-2zM358 17h3v1h-3zM366 17h5v1h-5zM375 17h5v1h-5zM384 17h3v1h-3zM388 17h2v1h-2zM401 17h4v1h-4zM406 17h2v1h-2zM412 17h4v1h-4zM438 17h4v1h-4zM448 17h4v1h-4zM455 17h6v1h-6zM466 17h4v1h-4zM474 17h3v1h-3zM478 17h2v1h-2zM483 17h3v1h-3zM487 17h2v1h-2zM492 17h5v1h-5z"/></g>
<g id="x-title"><path fill="#000000" d="M393 584h2v2h-2zM409 584h2v3h-2zM451 584h2v3h-2zM384 585h2v4h-2zM388 585h2v4h-2zM420 585h4v1h-4zM419 586h2v2h-2zM423 586h2v1h-2zM392 587h3v1h-3zM398 587h5v1h-5zM406 587h5v1h-5zM426 587h5v1h-5zM434 587h4v1h-4zM441 587h4v1h-4zM448 587h5v1h-5zM393 588h2v4h-2zM398 588h2v5h-2zM402 588h2v5h-2zM405 588h2v4h-2zM409 588h2v4h-2zM420 588h4v1h-4zM426 588h2v3h-2zM430 588h2v3h-2zM433 588h2v1h-2zM437 588h2v1h-2zM440 588h2v1h-2zM444 588h2v1h-2zM447 588h2v4h-2zM451 588h2v4h-2zM384 589h6v2h-6zM423 589h2v3h-2zM433 589h6v1h-6zM440 589h6v1h-6zM433 590h2v2h-2zM440 590h2v2h-2zM384 591h2v1h-2zM388 591h2v1h-2zM419 591h2v1h-2zM426 591h5v1h-5zM437 591h2v1h-2zM444 591h2v1h-2zM384 592h1v1h-1zM389 592h1v1h-1zM391 592h6v1h-6zM406 592h5v1h-5zM420 592h4v1h-4zM426 592h2v3h-2zM434 592h4v1h-4zM441 592h4v1h-4zM448 592h5v1h-5z"/></g>
<g id="y-title"><path fill="#000000" d="M11 266h2v1h-2zM14 266h1v1h-1zM10 267h3v1h-3zM14 267h2v1h-2zM10 268h1v2h-1zM12 268h1v2h-1zM15 268h1v2h-1zM10 270h6v1h-6zM11 271h4v1h-4zM7 273h9v2h-9zM10 275h1v2h-1zM15 275h1v2h-1zM10 277h6v1h-6zM11 278h4v1h-4zM10 280h6v2h-6zM15 282h1v2h-1zM10 284h6v1h-6zM10 285h5v1h-5zM14 287h1v1h-1zM10 288h1v2h-1zM14 288h2v1h-2zM15 289h1v1h-1zM8 290h8v1h-8zM8 291h7v1h-7zM10 292h1v1h-1zM15 294h1v2h-1zM7 296h2v2h-2zM10 296h6v2h-6zM10 298h1v1h-1zM15 298h1v2h-1zM14 301h1v1h-1zM10 302h1v2h-1zM14 302h2v1h-2zM15 303h1v1h-1zM8 304h8v1h-8zM8 305h7v1h-7zM10 306h1v1h-1zM15 308h1v2h-1zM7 310h9v2h-9zM7 312h1v1h-1zM15 312h1v2h-1zM9 315h7v1h-7zM8 316h8v1h-8zM8 317h1v2h-1zM12 317h1v2h-1zM8 319h8v1h-8zM9 320h7v1h-7z"/></g>
</svg>
</div>
</body>
</html>
